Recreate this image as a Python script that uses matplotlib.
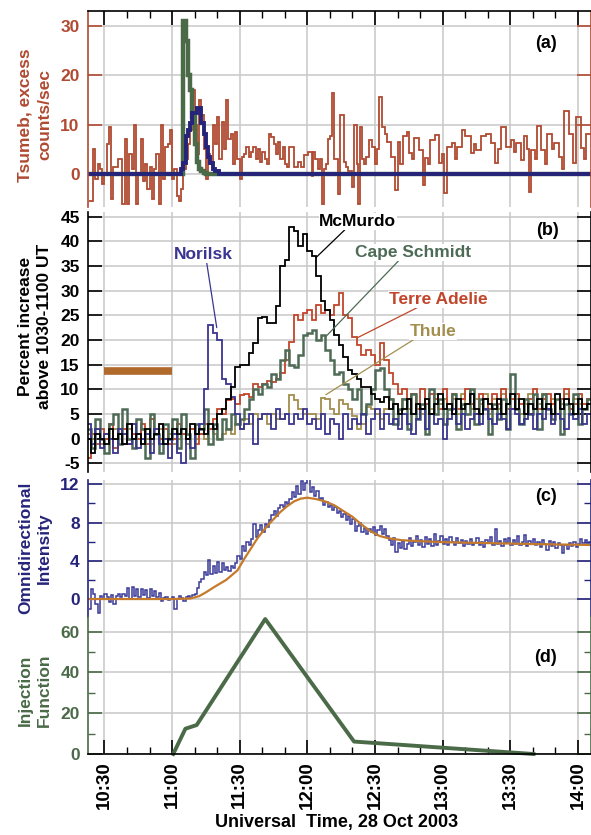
import numpy as np
import matplotlib
matplotlib.use('Agg')
import matplotlib.pyplot as plt
from matplotlib.ticker import MultipleLocator, FixedLocator

plt.rcParams['font.family'] = ['Liberation Sans', 'DejaVu Sans']
plt.rcParams['font.weight'] = 'bold'
plt.rcParams['axes.unicode_minus'] = False

# time is in minutes after 10:00 UT, 28 Oct 2003
t_min, t_max = 22.7, 245.8

# ---- panel (a): Tsumeb excess counts ----
# 1-min bins from 10:23 to 11:53
tsumeb_early = [-5.5, -5.5, 5, -1, 2, 1, -2,
                0, 6, 9.5, -5, 1.5, 1.5, 3, 3, -6, 7,
                -6, 4, 1, 10, -6, 0, 7, -1.5, 2, -3,
                1.5, -5, 1, 4, -6, 10, -1, 5.5, 6, 9,
                -1, 1, -4.5, -5.5,
                -3, 1, 3, 6, 9, 17, 10, 4, 15, 12, 5, -1, 4, 2, 10, 6, 11.5,
                3, 10.5, 5, 15, 7, 8, 2, 8.5, 3,
                -1, 3.5, 4, 5.5, 3.5, 4.5, 5.5, 3, 5, 2.5,
                4.5, 3, 2, 8, 7.5, 6, 4, 6.5, 3, 5.5, 2, 1.5, 5.5]
tsumeb_early_start = 23
# after 11:53: bin start times (min) and values
tsumeb_late_t = [113.0, 114.2, 115.7, 117.1, 118.6, 120.1, 120.8, 121.9, 122.5,
                 123.4, 124.6, 125.7, 126.3, 127.5, 128.3, 129.0, 130.2, 130.8,
                 131.7, 133.4, 134.6, 136.1, 137.1, 138.2, 139.7, 140.8, 142.2,
                 142.6, 143.2, 144.3, 145.3, 146.2, 147.2, 148.7, 150.0, 150.9,
                 151.8, 153.0, 154.3, 155.4, 156.9, 158.9, 160.1, 161.3, 162.2,
                 164.0, 165.0, 166.3, 167.2, 169.4, 171.4, 172.3, 173.7, 174.6,
                 176.8, 178.3, 179.7, 180.6, 182.0, 184.3, 185.7, 186.5, 188.7,
                 190.0, 192.4, 193.9, 194.6, 196.9, 199.1, 201.3, 203.4, 204.6,
                 205.7, 208.0, 210.2, 211.7, 212.4, 214.6, 216.1, 217.6, 218.3,
                 219.1, 220.8, 222.0, 223.5, 225.3, 226.5, 228.3, 229.4, 231.7,
                 233.0, 233.9, 236.0, 237.6, 239.1, 241.3, 242.8, 243.5]
tsumeb_late = [5.5, 1.5, 2.5, 1.5, 3.8, 4.5, 4.5, -0.5, 4.5,
               3, 1, 3, -6, 1, 2, 7, 7.6, 16.5,
               3, -4, 12, 2.5, 1.5, 0.5, -2.6, 10, 2,
               -6, 9.6, 3, 2, 3.5, 6.9, 5.5, 2, 5,
               15.7, 9.6, 8, 6.5, 3.5, -3.2, 6.5, 2, 7.6,
               8.6, 4.2, 3, 7.2, 4.9, -2.2, 3.2, 2, 6.9,
               7.9, 2.2, 4, -3.9, 5.5, 6.2, 3, 5.5, 8.9,
               7.6, 4.2, 6, 4.9, 7.6, 8.2, 6.2, 2.2, 5,
               9.6, 5.5, 6.9, 4.5, 6.2, 2.8, 7.6, 5, -3.6,
               4.9, 3, 9.7, 4.9, 2, 8.2, 5, 6.2, 3.5,
               1, 12.8, 8.2, 2.2, 11.6, 5.2, 3, 8.2]
tsumeb_end = 246

# model curves in panel (a), 1-min bins starting at 11:04
model_start = 64
model_fast = [0, 31, 27, 20, 17, 11.5, 6, 2.5, 1, 0.5, 0.2]
model_slow = [1, 2.2, 7.6, 9, 10.3, 12.3, 12.3, 13.3, 13.3, 10.3, 8, 5.5, 3.5,
              2.2, 1, 0.5, 0.5]

# ---- panel (b): percent increase, 2-min bins from 10:22 ----
b_start, b_step = 22, 2
mcmurdo = [0, -3, 1, 0, -1, 2, 0, 1, -1, 3,
           0, 1, -1, 2, 0, 1, 3, -1, 0, 2,
           1, 2, 0, 3, 1, 2, 1, 3, 2, 5,
           6, 8, 10.5, 14.6, 15, 15, 17.4, 19.4, 24.5, 24.7,
           23.5, 23.4, 26.8, 34.9, 36.3, 43, 42, 39, 41.5, 38,
           37, 33, 28, 26, 24, 21, 19, 16.6, 14, 13,
           12, 10.5, 10.5, 9, 8, 7.5, 8.5, 6, 7, 5,
           6, 8, 5, 7, 6, 8, 5, 7, 9, 6,
           7, 5, 8, 6, 7, 9, 6, 5, 8, 7,
           6, 8, 5, 7, 9, 6, 8, 5, 7, 6,
           8, 6, 7, 5, 9, 6, 8, 7, 5, 8,
           6, 7]
norilsk = [3, -1, 2, -2, 1, 0, -3, 2, 1, -1,
           3, -2, 0, 1, -3, 2, -1, 0, -4, 1,
           -3, -5, 0, -2, 1, 3, 10, 23, 21.5, 20,
           12, 11, 8.5, 5, 2, 3, 5, -1, 4, 5,
           5, 2, 6, 4, 5, 3, 5, 4, 6, 3,
           4, 2, 5, 1, 4, 3, 0, 5, 2, 4,
           3, 5, 1, 4, 6, 2, 5, 3, 4, 2,
           5, 3, 1, 4, 6, 2, 5, 3, 4, 0,
           4, 6, 3, 5, 2, 4, 5, 3, 6, 4,
           3, 5, 4, 2, 6, 5, 3, 4, 5, 2,
           5, 4, 6, 3, 5, 4, 2, 5, 4, 6,
           3, 5]
cape_schmidt = [2, -2, 4, 0, -3, 3, 5, -1, 6, 0,
                -2, 4, 2, -4, 5, 1, -3, 3, 0, 4,
                -2, 5, 1, -4, 3, 2, 6, -1, 3, 0,
                4, 2, 5, 3, 4, 6, 8, 10, 9, 11,
                10.5, 13, 12, 16, 18, 15, 14.6, 17, 21, 21.5,
                22, 20, 21, 18, 16, 13, 13.5, 11, 10, 8,
                10, 5, 7, 10, 14, 14.3, 10, 8, 3, 6,
                8, 2, 9, 4, 7, 1, 10, 5, 8, 3,
                6, 9, 2, 7, 5, 10, 3, 8, 6, 1,
                7, 4, 8, 2, 13, 6, 3, 8, 5, 9,
                2, 9, 6, 4, 8, 1, 7, 5, 9, 3,
                6, 8]
terre_adelie = [-4, 1, -1, 2, 0, 3, -2, 1, 2, -1,
                1, 0, 3, -1, 4, 1, 0, 2, -1, 0,
                3, 1, 0, 2, -1, 1, 3, 2, 4, 6,
                5, 7.9, 8, 7, 8.9, 9, 8.5, 11, 10.5, 11,
                11.7, 11.5, 12, 13.3, 16, 19.6, 25, 24, 25.4, 26,
                24, 27, 25.5, 26, 25, 27, 29.5, 25, 24.5, 20.7,
                19, 17, 18, 17, 15, 19.4, 16, 13.3, 11, 9,
                10, 8, 9, 6, 10, 7, 9, 8, 6, 10,
                7, 9, 6, 8, 10, 7, 5, 9, 8, 6,
                9, 7, 10, 6, 8, 9, 7, 5, 8, 10,
                6, 8, 9, 7, 5, 8, 10, 6, 7, 9,
                7, 8]
thule = [1, 0, 2, -1, 1, 0, 2, 1, -1, 2,
         0, 1, 2, 0, -1, 1, 2, 0, 1, -1,
         0, 1, -1, 2, 0, 1, 0, 2, 1, 0,
         1, 2, 1, 3, 2, 4, 3, 5, 4, 5,
         3, 5, 4, 4, 5, 8.9, 7.9, 6, 5, 5,
         5, 4, 8.3, 8, 6, 5, 7.9, 7, 6, 4.6,
         2, 3, 6.5, 6, 5, 4, 6, 8, 7, 5,
         8, 6, 9, 7, 5, 8, 6, 9, 7, 8,
         6, 8, 5, 9, 7, 6, 8, 7, 9, 5,
         8, 6, 9, 7, 6, 8, 5, 7, 9, 6,
         7, 9, 6, 8, 5, 7, 9, 6, 8, 7,
         6, 8]
baseline_window = (30, 60)   # 1030-1100 UT
baseline_level = 13.8

# ---- panel (c): omnidirectional intensity, 1-min bins from 10:23 ----
c_start = 23
omni = [-1, 1, 0.5, -0.5, -1.5, 0.3, 0,
        0.5, 0.2, -0.3, 0.4, -0.5, 0.3, 0.5, 0.2, 0.5, 0.3,
        1.2, 0, 1.3, 0.3, 1.1, 0.2, 1.0, 0.4, 0.9, 0.1,
        1.0, 0.3, 0.8, 0.2, 0.6, -0.2, 0.1, 0.2, -0.1, 0,
        0.2, -1, 0, 0.3, 0.1, -0.2, 0.2, 0.3, 0.1, 0.4,
        0.5, 1.2, 1.8, 2.1, 2.8, 2.5, 4.1, 2.6, 3.5, 2.7,
        3.9, 2.8, 3.8, 3.0, 3.4, 2.9, 3.5, 3.2, 3.8, 4.5,
        4.2, 5.5, 5.0, 6.0, 5.6, 6.3, 7.8, 6.5, 7.2, 7.7,
        7.0, 7.8, 7.5, 8.3, 8.8, 9.2, 8.7, 9.5, 9.8, 9.6,
        10.2, 9.9, 10.5, 11.2, 10.7, 11.8, 11.0, 12.3, 11.4, 12.1,
        12.6, 11.2, 11.7, 10.8, 11.3, 10.5, 10.6, 9.8, 10.1, 9.6,
        9.8, 9.3, 9.6, 9.0, 9.2, 8.6, 8.9, 8.3, 8.7, 7.8,
        8.4, 7.1, 7.6, 8.0, 7.0, 7.4, 6.8, 7.3, 7.0, 7.5,
        6.7, 7.2, 7.6, 6.8, 7.3, 6.6, 6.2, 5.6, 6.4, 4.9,
        5.9, 5.3, 6.1, 5.2, 5.8, 6.4, 5.5, 6.0, 6.6, 5.7,
        6.2, 5.4, 6.5, 5.8, 6.3, 5.5, 6.8, 5.7, 6.1, 6.6,
        5.8, 6.3, 5.6, 6.5, 6.0, 5.7, 6.4, 5.9, 6.2, 5.5,
        6.1, 5.8, 6.3, 5.6, 5.9, 6.4, 5.7, 6.0, 5.4, 6.2,
        5.9, 6.5, 5.6, 7.3, 5.8, 6.1, 5.5, 6.3, 5.9, 6.4,
        5.7, 6.2, 5.8, 6.6, 5.6, 6.0, 6.7, 5.5, 6.1, 5.8,
        6.3, 5.6, 6.0, 5.4, 6.2, 5.8, 5.1, 6.1, 5.5, 6.0,
        5.3, 5.9, 5.6, 4.8, 5.7, 5.2, 5.9, 5.5, 6.0, 5.4,
        5.8, 6.3, 5.9, 6.2, 5.7, 6.0]
fit_t = [22, 60, 68, 72, 75, 79, 84, 89, 92, 95, 98, 101, 104, 108, 111, 114,
         117, 120, 124, 128, 132, 136, 140, 144, 148, 152, 156, 162, 170, 180,
         200, 220, 246]
fit_v = [0, 0, 0.05, 0.3, 0.7, 1.3, 2.0, 3.0, 4.2, 5.3, 6.4, 7.3, 8.1, 9.1,
         9.7, 10.2, 10.5, 10.6, 10.45, 10.2, 9.8, 9.2, 8.6, 7.8, 7.1, 6.6,
         6.35, 6.15, 6.05, 5.95, 5.85, 5.75, 5.65]

# ---- panel (d): injection function ----
inj_t = [60.5, 65.9, 70.9, 101.3, 140.7, 220.3]
inj_v = [0, 12.4, 14.2, 66.2, 6.1, 0]

# colours
c_red = '#b04a32'
c_navy = '#26247a'
c_green = '#4a6a48'
c_nor = '#3a3590'
c_cape = '#4e6b56'
c_terre = '#c0462b'
c_thule = '#a38e4d'
c_bar = '#b06a2c'
c_fit = '#c57a2a'

W, H = 591, 835


def box(top, bottom):
    return [88 / W, 1 - bottom / H, 503 / W, (bottom - top) / H]


def edges(start, step, n):
    return start + step * np.arange(n + 1)


def style(ax, col, ylim, yticks, yminor=None):
    ax.set_xlim(t_min, t_max)
    ax.set_ylim(*ylim)
    ax.xaxis.set_major_locator(MultipleLocator(30))
    ax.xaxis.set_minor_locator(MultipleLocator(10))
    ax.yaxis.set_major_locator(FixedLocator(yticks))
    if yminor is not None:
        ax.yaxis.set_minor_locator(FixedLocator(yminor))
    ax.grid(True, which='major', color='#c8c8c8', lw=1.1)
    ax.set_axisbelow(True)
    for s in ['left', 'right']:
        ax.spines[s].set_color(col)
        ax.spines[s].set_linewidth(1.2)
    ax.spines['top'].set_visible(False)
    ax.spines['bottom'].set_visible(False)
    ax.tick_params(axis='y', which='both', direction='in', left=True,
                   right=True, color=col, labelcolor=col, labelsize=12.5, pad=6)
    ax.tick_params(axis='y', which='major', length=10, width=1.2)
    ax.tick_params(axis='y', which='minor', length=5, width=1.0)
    ax.tick_params(axis='x', which='both', bottom=False, top=False,
                   labelbottom=False)


fig = plt.figure(figsize=(W / 100, H / 100), dpi=100)

# (a)
ax_a = fig.add_axes(box(11, 207))
style(ax_a, c_red, (-6.7, 33.04), [0, 10, 20, 30])
ax_a.spines['top'].set_visible(True)
ax_a.spines['top'].set_linewidth(1.2)
ax_a.tick_params(axis='x', which='both', top=True, direction='in', color='k')
ax_a.tick_params(axis='x', which='major', length=10, width=1.2)
ax_a.tick_params(axis='x', which='minor', length=5, width=1.0)
ax_a.stairs(tsumeb_early, edges(tsumeb_early_start, 1, len(tsumeb_early)),
            baseline=None, color=c_red, lw=1.3)
ax_a.stairs(tsumeb_late, np.r_[tsumeb_late_t, tsumeb_end],
            baseline=None, color=c_red, lw=1.3)
e_fast = np.r_[t_min, edges(model_start, 1, len(model_fast)), t_max]
ax_a.stairs(np.r_[0, model_fast, 0], e_fast, baseline=None,
            color=c_green, lw=3.2)
e_slow = np.r_[t_min, edges(model_start, 1, len(model_slow)), t_max]
ax_a.stairs(np.r_[0, model_slow, 0], e_slow, baseline=None,
            color=c_navy, lw=2.8)
ax_a.text(0.91, 0.835, '(a)', transform=ax_a.transAxes, ha='center',
          va='center', fontsize=13)

# (b)
ax_b = fig.add_axes(box(212, 472))
style(ax_b, 'k', (-6.77, 45.95), list(range(-5, 46, 5)))
eb = edges(b_start, b_step, len(mcmurdo))
ax_b.stairs(thule, eb, baseline=None, color=c_thule, lw=1.3)
ax_b.stairs(terre_adelie, eb, baseline=None, color=c_terre, lw=1.3)
ax_b.stairs(cape_schmidt, eb, baseline=None, color=c_cape, lw=1.8)
ax_b.stairs(norilsk, eb, baseline=None, color=c_nor, lw=1.3)
ax_b.stairs(mcmurdo, eb, baseline=None, color='k', lw=1.3)
ax_b.plot(baseline_window, [baseline_level, baseline_level], color=c_bar,
          lw=5.5, solid_capstyle='butt')

labels = [('Norilsk', c_nor, (74, 37.3), (79.8, 22.5), (0.55, 0)),
          ('McMurdo', 'k', (142.4, 44.0), (123.8, 36.7), (0.34, 0)),
          ('Cape Schmidt', c_cape, (166.9, 37.7), (128.2, 20.7), (0.38, 0)),
          ('Terre Adelie', c_terre, (178, 28.2), (142.4, 20.5), (0.3, 0)),
          ('Thule', c_thule, (175.8, 21.7), (128.2, 8.9), (0.1, 0))]
for name, col, xyt, xy, rel in labels:
    ax_b.annotate(name, xy=xy, xytext=xyt, color=col, fontsize=12.5,
                  ha='center', va='center', zorder=5,
                  bbox=dict(fc='white', ec='none', pad=0.5),
                  arrowprops=dict(arrowstyle='-', color=col, lw=0.9,
                                  relpos=rel, shrinkA=0, shrinkB=0))
ax_b.text(0.913, 0.93, '(b)', transform=ax_b.transAxes, ha='center',
          va='center', fontsize=13)

# (c)
ax_c = fig.add_axes(box(480, 617))
style(ax_c, c_navy, (-1.88, 12.45), [0, 4, 8, 12], [2, 6, 10])
ax_c.stairs(omni, edges(c_start, 1, len(omni)), baseline=None,
            color='#3a3a9a', lw=1.1)
ax_c.plot(fit_t, fit_v, color=c_fit, lw=1.6)
ax_c.text(0.91, 0.876, '(c)', transform=ax_c.transAxes, ha='center',
          va='center', fontsize=13)

# (d)
ax_d = fig.add_axes(box(617, 754))
style(ax_d, c_green, (0, 67.2), [0, 20, 40, 60], [10, 30, 50])
ax_d.spines['bottom'].set_visible(True)
ax_d.spines['bottom'].set_color('k')
ax_d.spines['bottom'].set_linewidth(1.2)
ax_d.plot(inj_t, inj_v, color=c_green, lw=2.8, clip_on=False)
ax_d.tick_params(axis='x', which='both', bottom=True, labelbottom=True,
                 direction='in', color='k', pad=5)
ax_d.tick_params(axis='x', which='major', length=10, width=1.2,
                 labelsize=13.5, labelrotation=90)
ax_d.tick_params(axis='x', which='minor', length=5, width=1.0)
major_t = list(range(30, 241, 30))
ax_d.set_xticks(major_t)
ax_d.set_xticklabels([f'{10 + m // 60}:{m % 60:02d}' for m in major_t])
ax_d.text(0.91, 0.708, '(d)', transform=ax_d.transAxes, ha='center',
          va='center', fontsize=13)

# axis titles
ylab = dict(rotation=90, ha='center', va='center', fontsize=12.5,
            multialignment='center', linespacing=1.35)
fig.text(35 / W, 1 - 115 / H, 'Tsumeb, excess\ncounts/sec', color=c_red, **ylab)
fig.text(35 / W, 1 - 326 / H, 'Percent increase\nabove 1030-1100 UT',
         color='k', **ylab)
fig.text(35 / W, 1 - 548 / H, 'Omnidirectional\nIntensity', color=c_navy, **ylab)
fig.text(35 / W, 1 - 690 / H, 'Injection\nFunction', color=c_green, **ylab)
fig.text(337 / W, 1 - 823 / H, 'Universal  Time, 28 Oct 2003', ha='center',
         va='center', fontsize=13)

fig.savefig('out.png', dpi=100)
